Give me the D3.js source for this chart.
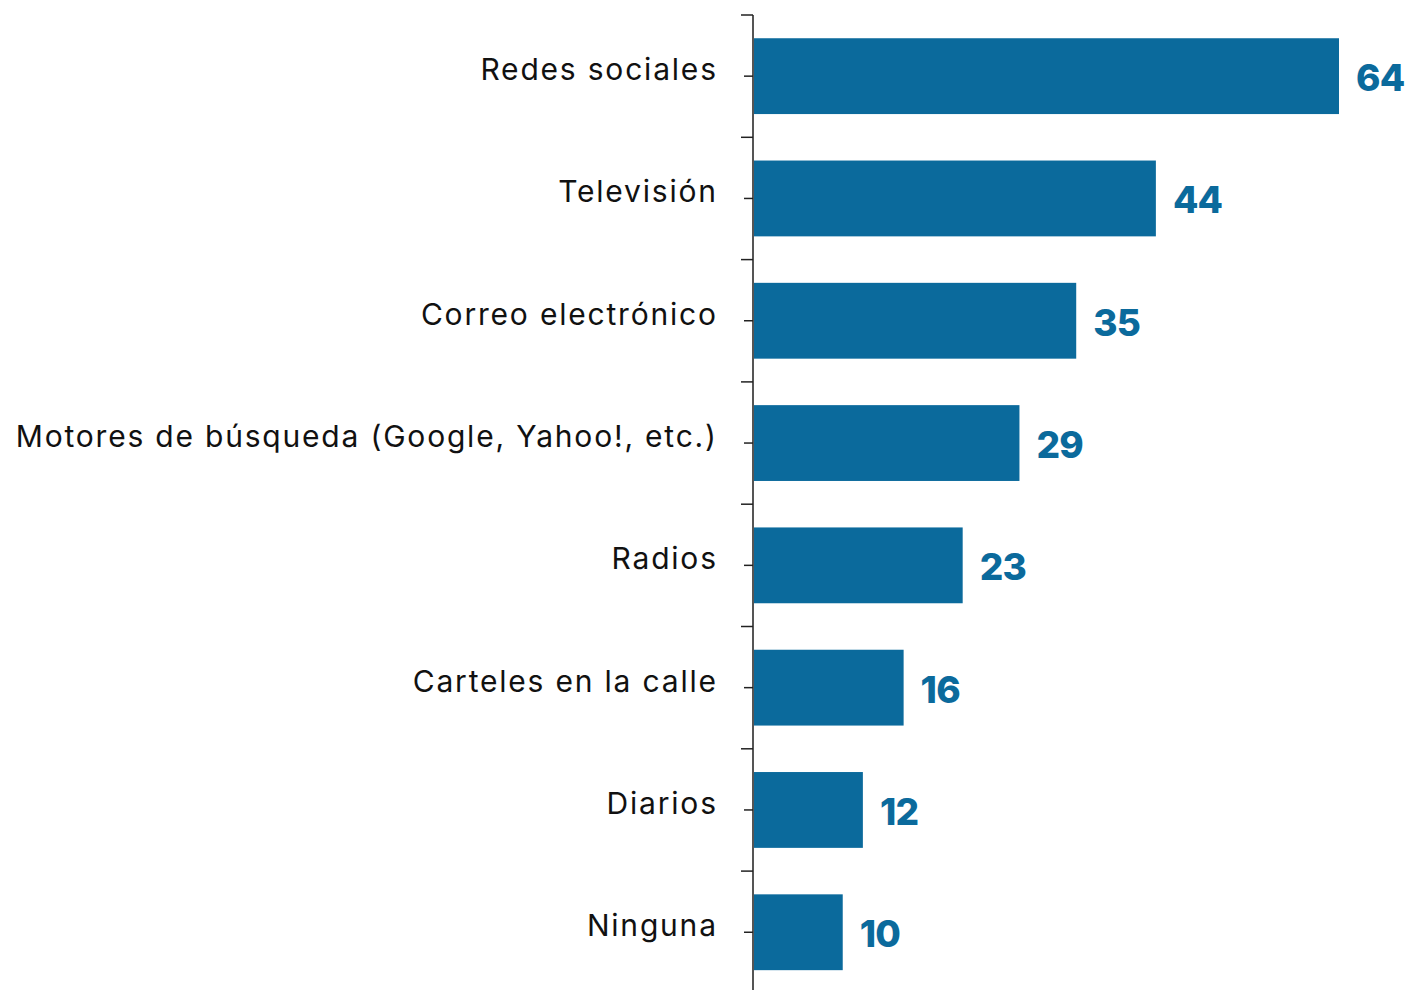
<!DOCTYPE html>
<html><head><meta charset="utf-8">
<script src="https://cdn.jsdelivr.net/npm/d3@7"></script>
<style>
html,body{margin:0;padding:0;background:#fff;}
svg{display:block;}
</style></head>
<body>
<svg id="chart" width="1408" height="990"></svg>
<script>
const categories = ["Redes sociales","Televisión","Correo electrónico","Motores de búsqueda (Google, Yahoo!, etc.)","Radios","Carteles en la calle","Diarios","Ninguna"];
const values = [64, 44, 35.3, 29.1, 22.9, 16.45, 12, 9.8];

const svg = d3.select("#chart");
const x0 = 753, yTop = 15, band = 122.3;
const x = d3.scaleLinear().domain([0,64]).range([x0,1339]);
const y = d3.scaleBand().domain(categories).range([yTop, yTop + band*categories.length]).paddingInner(0.38).paddingOuter(0.19);
const color = "#0b6a9c";
const font = "Inter, 'Open Sans', sans-serif";
const fmt = d3.format(".0f");

// bars
svg.selectAll("rect.bar").data(categories).join("rect")
  .attr("x", x(0)).attr("y", d=>y(d))
  .attr("width", (d,i)=>x(values[i])-x(0)).attr("height", y.bandwidth())
  .attr("fill", color);

// axis line
svg.append("line").attr("x1",x0).attr("x2",x0).attr("y1",yTop).attr("y2",990)
  .attr("stroke","#555").attr("stroke-width",2);
// major ticks at band boundaries
const bounds = categories.map((d,i)=>yTop + band*i);
svg.selectAll("line.maj").data(bounds).join("line")
  .attr("x1",x0-12).attr("x2",x0).attr("y1",d=>d).attr("y2",d=>d)
  .attr("stroke","#222").attr("stroke-width",1.5);
// minor ticks at centers
svg.selectAll("line.min").data(categories).join("line")
  .attr("x1",x0-9).attr("x2",x0).attr("y1",d=>y(d)+y.bandwidth()/2).attr("y2",d=>y(d)+y.bandwidth()/2)
  .attr("stroke","#222").attr("stroke-width",1.5);

// category labels
svg.selectAll("text.cat").data(categories).join("text")
  .attr("class","cat")
  .attr("x", 717.8).attr("y", d=>y(d)+y.bandwidth()/2 + 4)
  .attr("text-anchor","end")
  .attr("font-family",font).attr("font-size",30).attr("letter-spacing",1.8).attr("fill","#111")
  .text(d=>d);

// value labels
svg.selectAll("text.val").data(categories).join("text")
  .attr("x",(d,i)=>x(values[i])+17).attr("y", d=>y(d)+y.bandwidth()/2 + 15)
  .attr("font-family",font).attr("font-size",37).attr("font-weight",800).attr("letter-spacing",-0.8).attr("fill",color)
  .text((d,i)=>fmt(values[i]));
</script>
</body></html>
